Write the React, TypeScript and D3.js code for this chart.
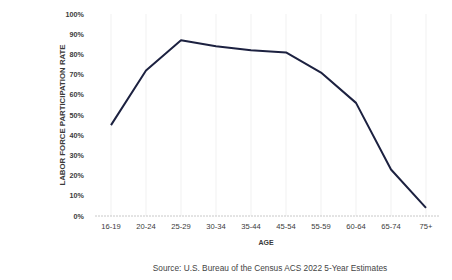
import React, { useEffect, useRef } from 'react';
import * as d3 from 'd3';

const ageGroups = ['16-19', '20-24', '25-29', '30-34', '35-44', '45-54', '55-59', '60-64', '65-74', '75+'];
const participation = [45, 72, 87, 84, 82, 81, 71, 56, 23, 4];
const yTicks = [0, 10, 20, 30, 40, 50, 60, 70, 80, 90, 100];

const App = () => {
  const svgRef = useRef<SVGSVGElement>(null);

  useEffect(() => {
    const svg = d3.select(svgRef.current);
    svg.selectAll('*').remove();

    const x = d3.scalePoint<string>().domain(ageGroups).range([111, 426]);
    const y = d3.scaleLinear().domain([0, 100]).range([216, 14]);
    const font = "'Liberation Sans', Arial, sans-serif";

    // faint vertical gridlines
    svg.append('g')
      .selectAll('line')
      .data(ageGroups)
      .join('line')
      .attr('x1', d => x(d)!)
      .attr('x2', d => x(d)!)
      .attr('y1', y(0))
      .attr('y2', y(100))
      .attr('stroke', '#f1f1f1')
      .attr('stroke-width', 1);

    // dotted baseline
    svg.append('line')
      .attr('x1', 95)
      .attr('x2', 440)
      .attr('y1', y(0))
      .attr('y2', y(0))
      .attr('stroke', '#c8c8c8')
      .attr('stroke-dasharray', '2,1');

    // y tick labels
    svg.append('g')
      .selectAll('text')
      .data(yTicks)
      .join('text')
      .attr('x', 84)
      .attr('y', d => y(d) + 2.5)
      .attr('text-anchor', 'end')
      .style('font-family', font)
      .style('font-size', '7.2px')
      .style('font-weight', 'bold')
      .attr('fill', '#3a3a3a')
      .text(d => `${d}%`);

    // x tick labels
    svg.append('g')
      .selectAll('text')
      .data(ageGroups)
      .join('text')
      .attr('x', d => x(d)!)
      .attr('y', 229)
      .attr('text-anchor', 'middle')
      .style('font-family', font)
      .style('font-size', '7.6px')
      .attr('fill', '#3a3a3a')
      .text(d => d);

    // axis titles
    svg.append('text')
      .attr('transform', 'rotate(-90)')
      .attr('x', -115)
      .attr('y', 65)
      .attr('text-anchor', 'middle')
      .style('font-family', font)
      .style('font-size', '7.8px')
      .style('font-weight', 'bold')
      .attr('fill', '#3a3a3a')
      .text('LABOR FORCE PARTICIPATION RATE');

    svg.append('text')
      .attr('x', 266)
      .attr('y', 245)
      .attr('text-anchor', 'middle')
      .style('font-family', font)
      .style('font-size', '7px')
      .style('font-weight', 'bold')
      .attr('fill', '#3a3a3a')
      .text('AGE');

    svg.append('text')
      .attr('x', 270)
      .attr('y', 271)
      .attr('text-anchor', 'middle')
      .style('font-family', font)
      .style('font-size', '8.3px')
      .attr('fill', '#444')
      .text('Source: U.S. Bureau of the Census ACS 2022 5-Year Estimates');

    // the line
    const line = d3.line<number>()
      .x((_, i) => x(ageGroups[i])!)
      .y(d => y(d));

    svg.append('path')
      .datum(participation)
      .attr('fill', 'none')
      .attr('stroke', '#1c2140')
      .attr('stroke-width', 2)
      .attr('stroke-linejoin', 'round')
      .attr('d', line);
  }, []);

  return (
    <svg ref={svgRef} width={452} height={280}
      style={{ position: 'absolute', left: 0, top: 0, background: '#fff' }} />
  );
};

export default App;
